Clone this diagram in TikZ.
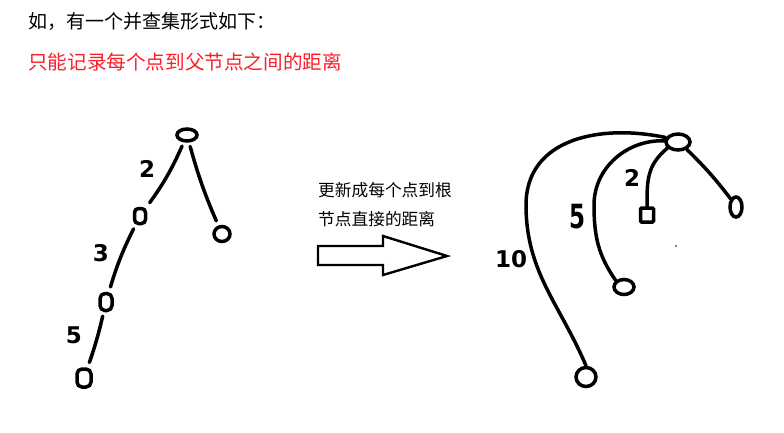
\documentclass[tikz,border=0pt]{standalone}
\usepackage{fontspec}
\newfontfamily\cjk{Noto Sans CJK SC}
\setsansfont{DejaVu Sans}
\usetikzlibrary{shapes.geometric}
\definecolor{redtxt}{RGB}{250,30,40}
\begin{document}
\begin{tikzpicture}[x=1pt,y=-1pt,
  blob/.style={draw=black,line width=3.5pt,ellipse,inner sep=0pt},
  sqblob/.style={draw=black,line width=3.5pt,rectangle,rounded corners=2pt,inner sep=0pt},
  hand/.style={draw=black,line width=3.5pt,line cap=round},
  gap/.style={shorten <=4pt,shorten >=5pt},
  digit/.style={font=\sffamily\bfseries\fontsize{23}{23}\selectfont,inner sep=0pt},
  cjktxt/.style={anchor=west,inner sep=0pt},
  blockarrow/.style={draw=black,line width=2.4pt,fill=white,line join=miter}]
\useasboundingbox (0,0) rectangle (784,433);
% texts
\node[cjktxt,font=\cjk\fontsize{19}{19}\selectfont] (t1) at (28,22) {如，有一个并查集形式如下：};
\node[cjktxt,font=\cjk\fontsize{19.6}{19.6}\selectfont,text=redtxt] (t2) at (28,62) {只能记录每个点到父节点之间的距离};
\node[cjktxt,font=\cjk\fontsize{16.7}{16.7}\selectfont] (t3) at (318,190) {更新成每个点到根};
\node[cjktxt,font=\cjk\fontsize{16.7}{16.7}\selectfont] (t4) at (318,219) {节点直接的距离};
% block arrow
\draw[blockarrow] (318,246) -- (383,246) -- (383,236) -- (447,256) -- (383,275) -- (383,265) -- (318,265) -- cycle;
% left tree
\node[blob,minimum width=20pt,minimum height=12pt] (r1) at (187,135) {};
\node[sqblob,minimum width=11pt,minimum height=15pt,rounded corners=4pt] (a) at (140,216) {};
\node[blob,minimum width=16pt,minimum height=15pt] (rc) at (222,234) {};
\node[sqblob,minimum width=12pt,minimum height=17pt,rounded corners=5pt] (b) at (106,302) {};
\node[sqblob,minimum width=14pt,minimum height=18pt,rounded corners=5pt] (c) at (84,378) {};
\draw[hand,gap] (r1) to[bend left=6] (a);
\draw[hand,gap] (r1) to[bend right=4] (rc);
\draw[hand,gap] (a) to[bend right=5] (b);
\draw[hand,gap] (b) to[bend left=3] (c);
\node[digit] (l2) at (147,169) {2};
\node[digit] (l3) at (101,253) {3};
\node[digit] (l5) at (74,335) {5};
% right tree
\node[blob,minimum width=24pt,minimum height=16pt] (R) at (678,142) {};
\node[blob,minimum width=20pt,minimum height=19pt] (n10) at (586,377) {};
\node[blob,minimum width=20pt,minimum height=15pt] (n5) at (624,287) {};
\node[sqblob,minimum width=13pt,minimum height=14pt,rounded corners=1pt] (n2) at (647,215) {};
\node[blob,minimum width=12pt,minimum height=20pt] (n0) at (736,207) {};
\coordinate (m10) at (526,205);
\coordinate (m5) at (594,205);
\draw[hand] (R.160) to[out=168,in=90,looseness=1.1] (m10) to[out=-90,in=113,looseness=1] (n10.north);
\draw[hand] (R.175) to[out=178,in=90,looseness=1] (m5) to[out=-90,in=125,looseness=1] (n5.north west);
\draw[hand] (R.210) to[out=220,in=90,looseness=1.1] (n2.north);
\draw[hand] (R.-40) to[bend left=4] (n0.north west);
\node[digit] (r2) at (632,178) {2};
\node[digit,yscale=1.45] (r5) at (577,217) {5};
\node[digit] (r10) at (511,259) {10};
\fill (676,246) circle (0.8);
\end{tikzpicture}
\end{document}
